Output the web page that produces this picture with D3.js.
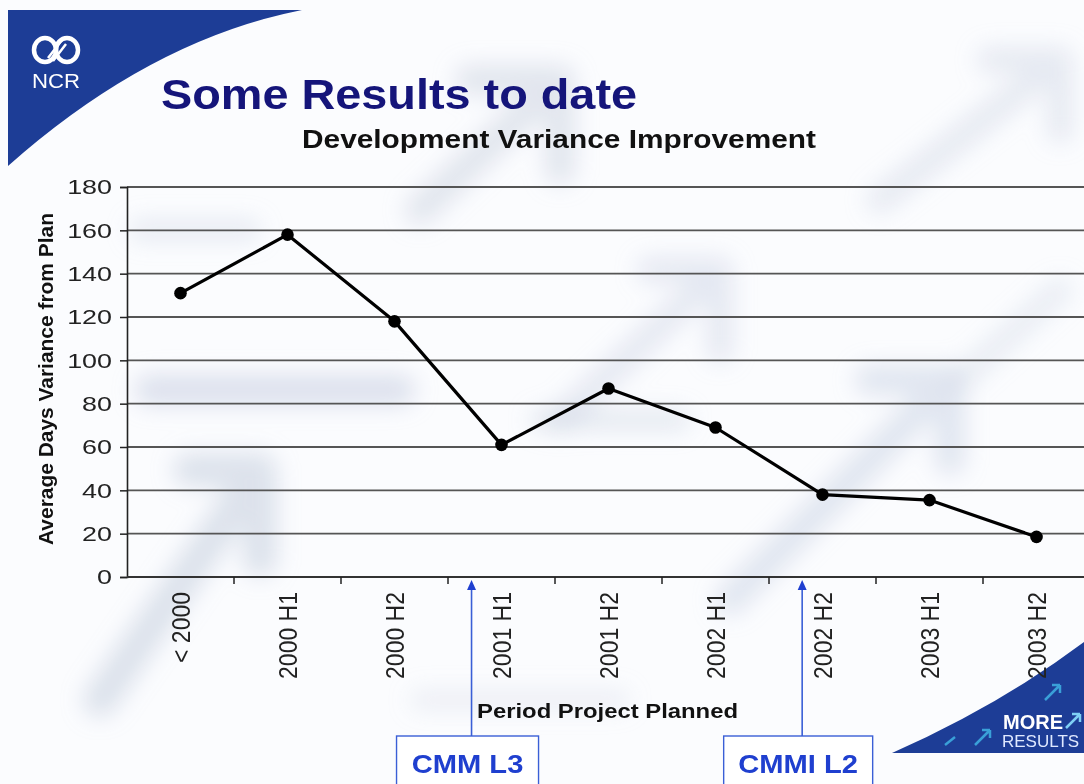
<!DOCTYPE html>
<html>
<head>
<meta charset="utf-8">
<script src="https://cdn.jsdelivr.net/npm/d3@7/dist/d3.min.js"></script>
<style>
  html, body { margin: 0; padding: 0; background: #ffffff; }
  svg { display: block; font-family: "Liberation Sans", Arial, sans-serif; }
</style>
</head>
<body>
<svg id="chart" width="1084" height="784"></svg>
<script>
// ---- data ----
const categories = ["< 2000", "2000 H1", "2000 H2", "2001 H1", "2001 H2", "2002 H1", "2002 H2", "2003 H1", "2003 H2"];
const values = [131, 158, 118, 61, 87, 69, 38, 35.5, 18.5];
const yTicks = [0, 20, 40, 60, 80, 100, 120, 140, 160, 180];
const annotations = [
  { label: "CMM L3", category: "2001 H1", offset: 0.22, boxW: 142 },
  { label: "CMMI L2", category: "2002 H2", offset: 0.31, boxW: 149 }
];
const titleText = "Some Results to date";
const subtitleText = "Development Variance Improvement";
const yTitle = "Average Days Variance from Plan";
const xTitle = "Period Project Planned";

const svg = d3.select("#chart");
const W = 1084, H = 784;

// horizontal stretch helper (reference slide text is widened)
function stretch(sel, factor) {
  sel.each(function () {
    const len = this.getComputedTextLength();
    d3.select(this).attr("textLength", len * factor).attr("lengthAdjust", "spacingAndGlyphs");
  });
}

// ---- background soft arrows ----
const defs = svg.append("defs");
defs.append("filter").attr("id", "blur").attr("x", "-50%").attr("y", "-50%").attr("width", "200%").attr("height", "200%")
  .append("feGaussianBlur").attr("stdDeviation", 11);

svg.append("rect").attr("width", W).attr("height", H).attr("fill", "#fbfcfe");
const bg = svg.append("g").attr("filter", "url(#blur)").attr("fill", "none").attr("stroke-linecap", "round");
const bgArrows = [
  { d: "M100,700 L260,470 M260,470 L190,470 M260,470 L260,560", c: "#b9c3d8", w: 34, o: 0.45 },
  { d: "M150,390 L400,390", c: "#c3cbe0", w: 30, o: 0.55 },
  { d: "M420,210 L560,80 M560,80 L470,80 M560,80 L560,170", c: "#c4ccdc", w: 30, o: 0.45 },
  { d: "M560,420 L720,270 M720,270 L650,270 M720,270 L720,350", c: "#c6cee0", w: 26, o: 0.4 },
  { d: "M730,600 L950,380 M950,380 L870,380 M950,380 L950,460", c: "#c2cbdf", w: 30, o: 0.45 },
  { d: "M880,200 L1060,60 M1060,60 L990,60 M1060,60 L1060,130", c: "#c8d0e2", w: 26, o: 0.4 },
  { d: "M960,380 L1060,290", c: "#c8d0e2", w: 24, o: 0.35 },
  { d: "M140,230 L250,230", c: "#ccd3e3", w: 22, o: 0.4 },
  { d: "M540,420 L680,420", c: "#c8d0e0", w: 20, o: 0.45 },
  { d: "M420,700 L620,700", c: "#d2d8e6", w: 20, o: 0.35 }
];
bgArrows.forEach(a => bg.append("path").attr("d", a.d).attr("stroke", a.c).attr("stroke-width", a.w).attr("opacity", a.o));

// ---- NCR corner ----
const blue = "#1d3d96";
svg.append("path").attr("d", "M8,10 L302,10 Q150,40 8,166 Z").attr("fill", blue);
const logo = svg.append("g").attr("fill", "none").attr("stroke", "#ffffff").attr("stroke-width", 4.5);
logo.append("ellipse").attr("cx", 45).attr("cy", 50).attr("rx", 11).attr("ry", 12);
logo.append("ellipse").attr("cx", 67).attr("cy", 50).attr("rx", 11).attr("ry", 12);
logo.append("path").attr("d", "M48,58 L62,40 M53,61 L66,44").attr("stroke-width", 2.5);
const ncr = svg.append("text").attr("x", 32).attr("y", 88)
  .attr("fill", "#ffffff").attr("font-size", 20).text("NCR");
ncr.attr("textLength", 48).attr("lengthAdjust", "spacingAndGlyphs");

// ---- MORE RESULTS corner ----
svg.append("path").attr("d", "M892,753 Q1000,705 1084,642 L1084,753 Z").attr("fill", blue);
const deco = svg.append("g").attr("stroke", "#3aa0d8").attr("stroke-width", 2.5).attr("fill", "none");
deco.append("path").attr("d", "M975,745 L990,730 M990,730 L982,730 M990,730 L990,738");
deco.append("path").attr("d", "M945,745 L955,737");
deco.append("path").attr("d", "M1045,700 L1060,685 M1060,685 L1052,685 M1060,685 L1060,693");
deco.append("path").attr("d", "M1066,728 L1080,714 M1080,714 L1072,714 M1080,714 L1080,722").attr("stroke", "#7fd0f5");
svg.append("text").attr("x", 1003).attr("y", 729).attr("fill", "#ffffff").attr("font-size", 20)
  .attr("font-weight", "bold").attr("textLength", 60).attr("lengthAdjust", "spacingAndGlyphs").text("MORE");
svg.append("text").attr("x", 1002).attr("y", 747).attr("fill", "#dfe9ff").attr("font-size", 17).text("RESULTS");

// ---- titles ----
svg.append("text").attr("x", 161).attr("y", 109).attr("fill", "#15157a").attr("font-size", 43)
  .attr("font-weight", "bold").attr("textLength", 476).attr("lengthAdjust", "spacingAndGlyphs").text(titleText);
svg.append("text").attr("x", 302).attr("y", 148).attr("fill", "#111")
  .attr("font-size", 26).attr("font-weight", "bold").attr("textLength", 514).attr("lengthAdjust", "spacingAndGlyphs")
  .text(subtitleText);

// ---- scales ----
const x = d3.scaleBand().domain(categories).range([127, 1090]);
const y = d3.scaleLinear().domain([0, 180]).range([577, 187]);

// gridlines
svg.append("g").selectAll("line").data(yTicks.filter(t => t > 0)).join("line")
  .attr("x1", 127).attr("x2", W).attr("y1", d => y(d)).attr("y2", d => y(d))
  .attr("stroke", "#555").attr("stroke-width", 1.8);

// y axis
const yAxis = svg.append("g").attr("transform", "translate(127,0)")
  .call(d3.axisLeft(y).tickValues(yTicks).tickSize(7).tickPadding(8));
yAxis.select(".domain").attr("stroke", "#222").attr("stroke-width", 1.6);
yAxis.selectAll(".tick line").attr("stroke", "#222").attr("stroke-width", 1.5);
yAxis.selectAll(".tick text").attr("font-size", 21).attr("fill", "#222")
  .attr("font-family", "'Liberation Sans', Arial, sans-serif");
stretch(yAxis.selectAll(".tick text"), 1.28);

// x axis
const xAxis = svg.append("g").attr("transform", "translate(0,577)")
  .call(d3.axisBottom(x).tickSize(0).tickPadding(0));
xAxis.select(".domain").remove();
xAxis.selectAll(".tick text")
  .attr("font-size", 23).attr("fill", "#222").attr("font-family", "'Liberation Sans', Arial, sans-serif")
  .attr("transform", "rotate(-90) scale(1,1.12)").attr("text-anchor", "end")
  .attr("x", -15).attr("y", 0).attr("dy", "0.35em");
svg.append("line").attr("x1", 127).attr("x2", W).attr("y1", 577).attr("y2", 577)
  .attr("stroke", "#333").attr("stroke-width", 1.8);
// boundary ticks
svg.append("g").selectAll("line").data(categories.slice(1)).join("line")
  .attr("x1", d => x(d)).attr("x2", d => x(d)).attr("y1", 577).attr("y2", 584)
  .attr("stroke", "#222").attr("stroke-width", 1.5);

// axis titles
svg.append("text").attr("transform", "translate(53,379) rotate(-90) scale(1,1.1)").attr("text-anchor", "middle")
  .attr("font-size", 18).attr("font-weight", "bold").attr("fill", "#111")
  .attr("textLength", 332).attr("lengthAdjust", "spacingAndGlyphs").text(yTitle);
svg.append("text").attr("x", 477).attr("y", 718)
  .attr("font-size", 20).attr("font-weight", "bold").attr("fill", "#111")
  .attr("textLength", 261).attr("lengthAdjust", "spacingAndGlyphs").text(xTitle);

// ---- line + markers ----
const pts = categories.map((c, i) => ({ c, v: values[i] }));
const line = d3.line().x(d => x(d.c) + x.bandwidth() / 2).y(d => y(d.v));
svg.append("path").datum(pts).attr("d", line).attr("fill", "none")
  .attr("stroke", "#000").attr("stroke-width", 3.2).attr("stroke-linejoin", "round");
svg.append("g").selectAll("circle").data(pts).join("circle")
  .attr("cx", d => x(d.c) + x.bandwidth() / 2).attr("cy", d => y(d.v)).attr("r", 6.3).attr("fill", "#000");

// ---- annotations ----
const annBlue = "#3a5fd6";
annotations.forEach(a => {
  const ax = x(a.category) + a.offset * x.bandwidth();
  const g = svg.append("g");
  g.append("line").attr("x1", ax).attr("x2", ax).attr("y1", 736).attr("y2", 588)
    .attr("stroke", annBlue).attr("stroke-width", 1.6);
  g.append("path").attr("d", `M${ax - 4.5},${590} L${ax},${580} L${ax + 4.5},${590} Z`).attr("fill", "#1f3fd0");
  const cx = ax - 4;
  g.append("rect").attr("x", cx - a.boxW / 2).attr("y", 736).attr("width", a.boxW).attr("height", 60)
    .attr("fill", "#ffffff").attr("stroke", annBlue).attr("stroke-width", 1.4);
  const t = g.append("text").attr("x", cx).attr("y", 773).attr("text-anchor", "middle")
    .attr("font-size", 26).attr("font-weight", "bold").attr("fill", "#1f3fcf").text(a.label);
  stretch(t, 1.12);
});
</script>
</body>
</html>
